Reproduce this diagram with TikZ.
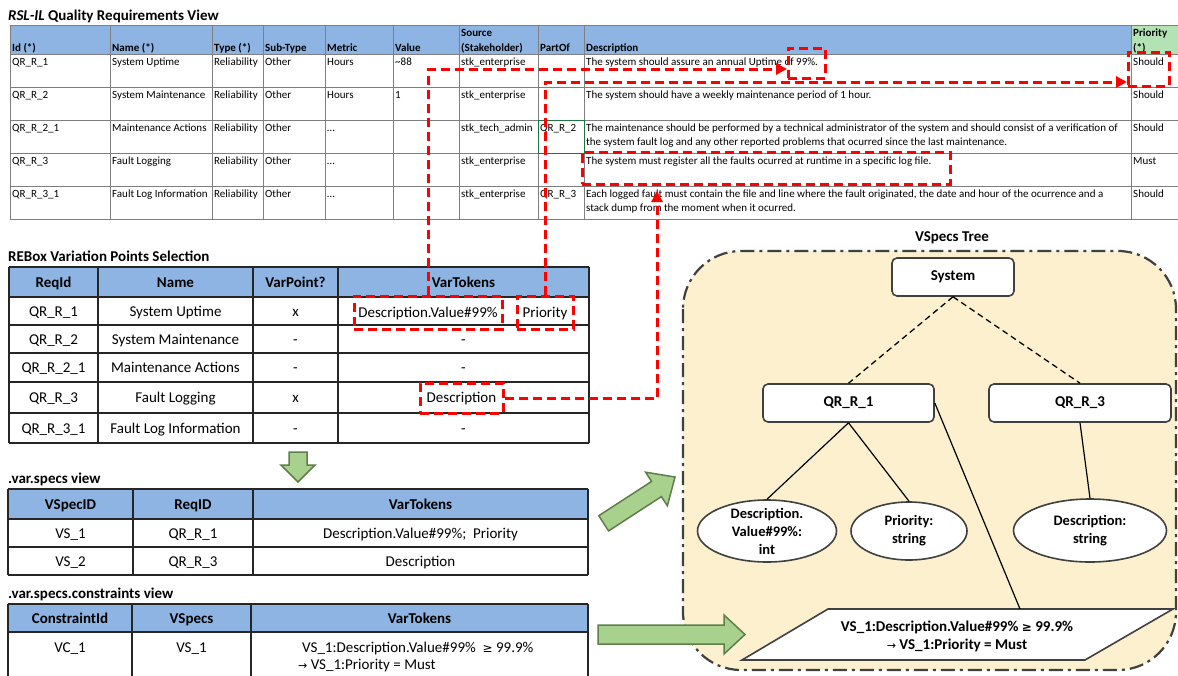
\documentclass[tikz,border=0pt]{standalone}
\usepackage{fontspec}
\setmainfont{Carlito}
\newfontfamily\symf{DejaVu Sans}
\usetikzlibrary{arrows.meta,calc,shapes.geometric}
\definecolor{hdrblue}{HTML}{8DB4E2}
\definecolor{hdrgreen}{HTML}{B3E3B5}
\definecolor{gridgray}{HTML}{7F7F7F}
\definecolor{redmark}{HTML}{FF0000}
\definecolor{beige}{HTML}{FDF0CE}
\definecolor{arrowgreen}{HTML}{A9D18E}
\definecolor{arrowedge}{HTML}{5E7E4A}
\definecolor{darkline}{HTML}{404040}
\definecolor{cellgreen}{HTML}{217346}
\newcommand\qrow[9]{%
  \node[ttxt] (r#1c1) at (12,#2) {#3};
  \node[ttxt] (r#1c2) at (112,#2) {#4};
  \node[ttxt] (r#1c3) at (214,#2) {Reliability};
  \node[ttxt] (r#1c4) at (265,#2) {Other};
  \node[ttxt] (r#1c5) at (327,#2) {#5};
  \node[ttxt] (r#1c6) at (395,#2) {#6};
  \node[ttxt] (r#1c7) at (461,#2) {#7};
  \node[ttxt] (r#1c8) at (540,#2) {#8};
  \node[ttxt] (r#1c10) at (1133,#2) {#9};
}
\begin{document}
\begin{tikzpicture}[x=1pt,y=-1pt,
  ttxt/.style={anchor=base west, inner sep=0pt, font=\fontsize{11}{12}\selectfont},
  thdr/.style={anchor=base west, inner sep=0pt, font=\bfseries\fontsize{11}{12}\selectfont},
  btxt/.style={anchor=base, inner sep=0pt, font=\fontsize{15}{18}\selectfont},
  bhdr/.style={anchor=base, inner sep=0pt, font=\bfseries\fontsize{15}{18}\selectfont},
  ttl/.style={anchor=base west, inner sep=0pt, font=\bfseries\fontsize{15}{17}\selectfont},
  grid1/.style={draw=gridgray, line width=0.9pt},
  grid2/.style={draw=black!85, line width=1.3pt},
  redbox/.style={draw=redmark, line width=3pt, dash pattern=on 9pt off 5pt, inner sep=0pt, text height=9.7pt, text depth=0pt, font=\fontsize{15}{18}\selectfont},
  redline/.style={draw=redmark, line width=3pt, dash pattern=on 9pt off 5pt},
  redtip/.style={-{Triangle[length=11pt,width=11pt]}},
  treebox/.style={draw=darkline, line width=1.6pt, fill=white, rounded corners=5pt, inner sep=0pt, font=\bfseries\fontsize{15}{17}\selectfont},
  treeell/.style={ellipse, draw=darkline, line width=1.6pt, fill=white, align=center, inner xsep=-6pt, inner ysep=-14pt, font=\bfseries\fontsize{14.5}{18}\selectfont},
  treeline/.style={draw=black, line width=1.2pt},
  treedash/.style={draw=black, line width=1.3pt, dash pattern=on 6pt off 4pt},
  greenarrow/.style={fill=arrowgreen, draw=arrowedge, line width=1.5pt, line join=miter}
]
\useasboundingbox (0,0) rectangle (1178,675);
\clip (0,0) rectangle (1178,675);

% ---------------- RSL-IL table ----------------
\node[ttl] (title1) at (8,20) {{\itshape RSL-IL} Quality Requirements View};
\fill[hdrblue] (10,25) rectangle (1131,54);
\fill[hdrgreen] (1131,25) rectangle (1190,54);
\foreach \y in {25,54,87,120,153,186,219} \draw[grid1] (10,\y) -- (1190,\y);
\foreach \x in {10,110,212,263,325,393,459,538,584,1131} \draw[grid1] (\x,25) -- (\x,219);
\draw[cellgreen, line width=1pt] (538,120) rectangle (584,153);

\node[thdr] (h1) at (12,51.5) {Id (*)};
\node[thdr] (h2) at (112,51.5) {Name (*)};
\node[thdr] (h3) at (214,51.5) {Type (*)};
\node[thdr] (h4) at (265,51.5) {Sub-Type};
\node[thdr] (h5) at (327,51.5) {Metric};
\node[thdr] (h6) at (395,51.5) {Value};
\node[thdr] (h7a) at (461,36) {Source};
\node[thdr] (h7b) at (461,51.5) {(Stakeholder)};
\node[thdr] (h8) at (540,51.5) {PartOf};
\node[thdr] (h9) at (586,51.5) {Description};
\node[thdr] (h10a) at (1133,36) {Priority};
\node[thdr] (h10b) at (1133,51.5) {(*)};

\qrow{1}{65.5}{QR\_R\_1}{System Uptime}{Hours}{\textasciitilde 88}{stk\_enterprise}{}{Should}
\node[ttxt] (r1d) at (586,65.5) {The system should assure an annual Uptime of 99\%.};
\qrow{2}{98.5}{QR\_R\_2}{System Maintenance}{Hours}{1}{stk\_enterprise}{}{Should}
\node[ttxt] (r2d) at (586,98.5) {The system should have a weekly maintenance period of 1 hour.};
\qrow{3}{131.5}{QR\_R\_2\_1}{Maintenance Actions}{…}{}{stk\_tech\_admin}{QR\_R\_2}{Should}
\node[ttxt] (r3d) at (586,131.5) {The maintenance should be performed by a technical administrator of the system and should consist of a verification of};
\node[ttxt] (r3e) at (586,145) {the system fault log and any other reported problems that ocurred since the last maintenance.};
\qrow{4}{164.5}{QR\_R\_3}{Fault Logging}{…}{}{stk\_enterprise}{}{Must}
\node[ttxt] (r4d) at (586,164.5) {The system must register all the faults ocurred at runtime in a specific log file.};
\qrow{5}{197.5}{QR\_R\_3\_1}{Fault Log Information}{…}{}{stk\_enterprise}{QR\_R\_3}{Should}
\node[ttxt] (r5d) at (586,197.5) {Each logged fault must contain the file and line where the fault originated, the date and hour of the ocurrence and a};
\node[ttxt] (r5e) at (586,211) {stack dump from the moment when it ocurred.};

% red boxes in the top table
\node[redbox, minimum width=37, minimum height=30] (b99) at (806.5,63) {};
\node[redbox, minimum width=41, minimum height=34] (bshould) at (1148.5,69) {};
\node[redbox, minimum width=368, minimum height=32] (bfault) at (766,168) {};

% ---------------- REBox table ----------------
\node[ttl] (title2) at (8,261) {REBox Variation Points Selection};
\fill[hdrblue] (9,267) rectangle (589,297);
\foreach \y in {267,297,325,353,382,413,443} \draw[grid2] (9,\y) -- (589,\y);
\foreach \x in {9,98,253,338,589} \draw[grid2] (\x,267) -- (\x,443);
\node[bhdr] (bh1) at (53.5,287) {ReqId};
\node[bhdr] (bh2) at (175.5,287) {Name};
\node[bhdr] (bh3) at (295.5,287) {VarPoint?};
\node[bhdr] (bh4) at (463.5,287) {VarTokens};
\foreach \i/\y/\id/\nm/\vp in {1/316/QR\_R\_1/System Uptime/x, 2/344/QR\_R\_2/System Maintenance/-, 3/372.5/QR\_R\_2\_1/Maintenance Actions/-, 4/402.5/QR\_R\_3/Fault Logging/x, 5/433/QR\_R\_3\_1/Fault Log Information/-}{
  \node[btxt] (ba\i) at (53.5,\y) {\id};
  \node[btxt] (bb\i) at (175.5,\y) {\nm};
  \node[btxt] (bc\i) at (295.5,\y) {\vp};
}
\node[btxt] (bv2) at (463.5,344) {-};
\node[btxt] (bv3) at (463.5,372.5) {-};
\node[btxt] (bv5) at (463.5,433) {-};
\node[redbox, minimum width=148, minimum height=33] (rb1) at (428,312.5) {Description.Value\#99\%};
\node[redbox, minimum width=56, minimum height=33] (rb2) at (545,312.5) {Priority};
\node[redbox, minimum width=83, minimum height=30] (rb3) at (461.5,398) {Description};

% ---------------- .var.specs view ----------------
\node[ttl] (title3) at (8,483) {.var.specs view};
\fill[hdrblue] (8,489) rectangle (588,519);
\foreach \y in {489,519,547,575} \draw[grid2] (8,\y) -- (588,\y);
\foreach \x in {8,133,253,588} \draw[grid2] (\x,489) -- (\x,575);
\node[bhdr] (vh1) at (70.5,509) {VSpecID};
\node[bhdr] (vh2) at (193,509) {ReqID};
\node[bhdr] (vh3) at (420.5,509) {VarTokens};
\node[btxt] (va1) at (70.5,538) {VS\_1};
\node[btxt] (vb1) at (193,538) {QR\_R\_1};
\node[btxt] (vc1) at (420.5,538) {Description.Value\#99\%;\ \ Priority};
\node[btxt] (va2) at (70.5,566) {VS\_2};
\node[btxt] (vb2) at (193,566) {QR\_R\_3};
\node[btxt] (vc2) at (420.5,566) {Description};

% ---------------- .var.specs.constraints view ----------------
\node[ttl] (title4) at (8,598) {.var.specs.constraints view};
\fill[hdrblue] (8,604) rectangle (588,632);
\foreach \y in {604,632} \draw[grid2] (8,\y) -- (588,\y);
\foreach \x in {8,132,251,588} \draw[grid2] (\x,604) -- (\x,690);
\node[bhdr] (ch1) at (70,623) {ConstraintId};
\node[bhdr] (ch2) at (191.5,623) {VSpecs};
\node[bhdr] (ch3) at (419.5,623) {VarTokens};
\node[btxt] (ca1) at (70,652) {VC\_1};
\node[btxt] (cb1) at (191.5,652) {VS\_1};
\node[btxt, anchor=base west] (cc1) at (302,652) {VS\_1:Description.Value\#99\%\ \ {\symf\fontsize{12}{14}\selectfont ≥} 99.9\%};
\node[btxt, anchor=base west] (cc2) at (298,669) {{\symf\fontsize{11}{14}\selectfont →} VS\_1:Priority = Must};

% ---------------- VSpecs Tree ----------------
\node[ttl, anchor=base] (title5) at (952,241.5) {VSpecs Tree};
\draw[darkline, line width=2.2pt, dash pattern=on 14pt off 5pt on 3pt off 5pt, fill=beige, rounded corners=58pt] (683,251) rectangle (1176,670);

\node[treebox, minimum width=122, minimum height=38] (sys) at (953,277) {System};
\node[treebox, minimum width=171, minimum height=38] (qr1) at (848.5,403) {QR\_R\_1};
\node[treebox, minimum width=182, minimum height=38] (qr3) at (1080,403) {QR\_R\_3};
\node[treeell, minimum width=139, minimum height=62] (e1) at (767,531) {Description.\\Value\#99\%:\\int};
\node[treeell, minimum width=116, minimum height=58] (e2) at (909,531) {Priority:\\string};
\node[treeell, minimum width=153, minimum height=63] (e3) at (1090,530.5) {Description:\\string};
\draw[darkline, line width=1.6pt, fill=white, line join=miter] (828,609) -- (1173,609) -- (1085,660) -- (742,660) -- cycle;
\node[inner sep=0pt, align=center, font=\bfseries\fontsize{15}{18}\selectfont] (cons) at (957,636) {VS\_1:Description.Value\#99\% {\symf\fontsize{12}{14}\selectfont ≥} 99.9\%\\{\symf\mdseries\fontsize{11}{14}\selectfont →} VS\_1:Priority = Must};
\coordinate (ptop) at (1020,609);

\draw[treedash] (sys.south) -- (qr1.north);
\draw[treedash] (sys.south) -- (qr3.north);
\draw[treeline] (qr1.south) -- (e1.north);
\draw[treeline] (qr1.south) -- (e2.north);
\draw[treeline] (qr3.south) -- (e3.north);
\draw[treeline] (qr1.east) -- (ptop);

% ---------------- green block arrows ----------------
\draw[greenarrow] (289,452) -- (307,452) -- (307,465) -- (315,465) -- (298,482) -- (281,465) -- (289,465) -- cycle;
\draw[greenarrow] (598.8,515.7) -- (651.6,481.4) -- (645.6,472.2) -- (675,477) -- (667.4,505.8) -- (661.4,496.6) -- (608.6,530.9) -- cycle;
\draw[greenarrow] (598,625) -- (724,625) -- (724,615) -- (745,634.5) -- (724,654) -- (724,644) -- (598,644) -- cycle;

% ---------------- red connectors ----------------
\coordinate (a1end) at (787,69);
\coordinate (a2end) at (1127,82);
\coordinate (a3end) at (657,191);
\draw[redline, redtip] (rb1.north) |- (a1end);
\draw[redline, redtip] (rb2.north) |- (a2end);
\draw[redline, redtip] (rb3.east) -| (a3end);
\end{tikzpicture}
\end{document}
